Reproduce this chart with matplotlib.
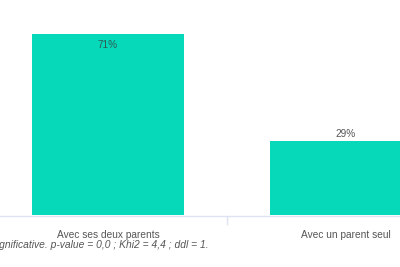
import matplotlib.pyplot as plt

# Données
categories = ["Avec ses deux parents", "Avec un parent seul"]
valeurs = [71, 29]
etiquettes = ["71%", "29%"]
note = "Différence significative. p-value = 0,0 ; Khi2 = 4,4 ; ddl = 1."

plt.rcParams['font.family'] = ['Liberation Sans', 'DejaVu Sans']

W, H = 400, 267
fig = plt.figure(figsize=(W / 100, H / 100), dpi=100)

# axes calés sur les pixels de la référence
base_px = 215
ax = fig.add_axes([0, (H - base_px) / H, 1, base_px / H])
unit = 238.0
ax.set_xlim(-108 / unit, 1 + 54 / unit)
ax.set_ylim(0, 71 * base_px / 181)

couleur = '#05d9b9'
x = list(range(len(categories)))
bars = ax.bar(x, valeurs, width=152 / unit, color=couleur, zorder=2)

for b, v, lab in zip(bars, valeurs, etiquettes):
    cx = b.get_x() + b.get_width() / 2
    if v > 50:
        ax.text(cx, v - 4.3, lab, ha='center', va='center', fontsize=7.2, color='#2f5a54')
    else:
        ax.text(cx, v + 2.9, lab, ha='center', va='center', fontsize=7.2, color='#555555')

for s in ax.spines.values():
    s.set_visible(False)
ax.set_xticks([])
ax.set_yticks([])
ax.patch.set_alpha(0)

# ligne de base et graduation
fig.add_artist(plt.Line2D([0, 1], [(H - 216) / H] * 2, color='#dde3f0', lw=1))
fig.add_artist(plt.Line2D([227 / W] * 2, [(H - 216) / H, (H - 224) / H], color='#dde3f0', lw=1))

# étiquettes des catégories
for i, c in enumerate(categories):
    px = 108 + i * unit
    fig.text(px / W, (H - 235) / H, c, ha='center', va='center', fontsize=7.3, color='#555555')

# note en bas, coupée à gauche comme dans l'original
fig.text(209 / W, (H - 245) / H, note, ha='right', va='center', fontsize=7.4,
         style='italic', color='#555555')

fig.savefig('out.png', dpi=100)
